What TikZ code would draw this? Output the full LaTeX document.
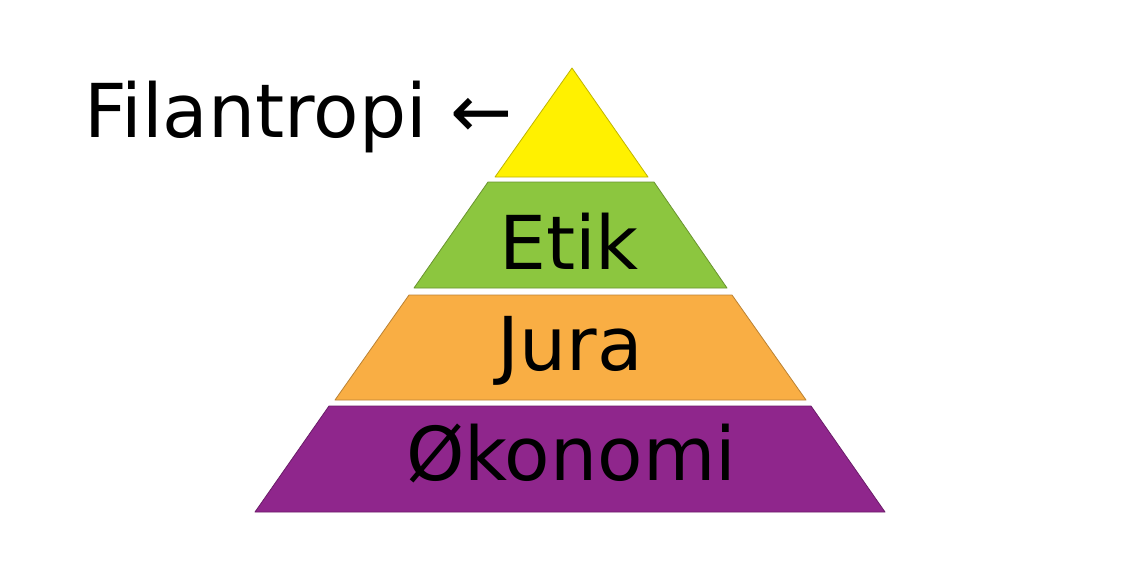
\documentclass[tikz,border=0pt]{standalone}
\usepackage{fontspec}
\setmainfont{DejaVu Sans}
\definecolor{pyYellow}{HTML}{FFF100}
\definecolor{pyGreen}{HTML}{8CC63F}
\definecolor{pyOrange}{HTML}{F9AE44}
\definecolor{pyPurple}{HTML}{8F268C}
\tikzset{
  layer/.style={fill=#1, draw=#1!75!black, line width=0.8pt, line join=round},
  lbl/.style={anchor=base, inner sep=0pt, font=\fontsize{74.3}{88}\selectfont, text=black},
}
\begin{document}
\begin{tikzpicture}[x=1pt,y=-1pt]
\useasboundingbox[fill=white] (0,0) rectangle (1140,570);
% layers
\path[layer=pyYellow] (572,68) -- (648,177) -- (495,177) -- cycle;
\path[layer=pyGreen]  (488,182) -- (654,182) -- (727,288) -- (414,288) -- cycle;
\path[layer=pyOrange] (409,295) -- (732,295) -- (806,400) -- (335,400) -- cycle;
\path[layer=pyPurple] (329,406) -- (811,406) -- (885,512) -- (255,512) -- cycle;
% labels
\node[lbl] (etik) at (569,269) {Etik};
\node[lbl] (jura) at (570,370) {Jura};
\node[lbl] (okonomi) at (571,480) {Økonomi};
\node[lbl, anchor=base west] (filantropi) at (84,137) {Filantropi ←};
\end{tikzpicture}
\end{document}
